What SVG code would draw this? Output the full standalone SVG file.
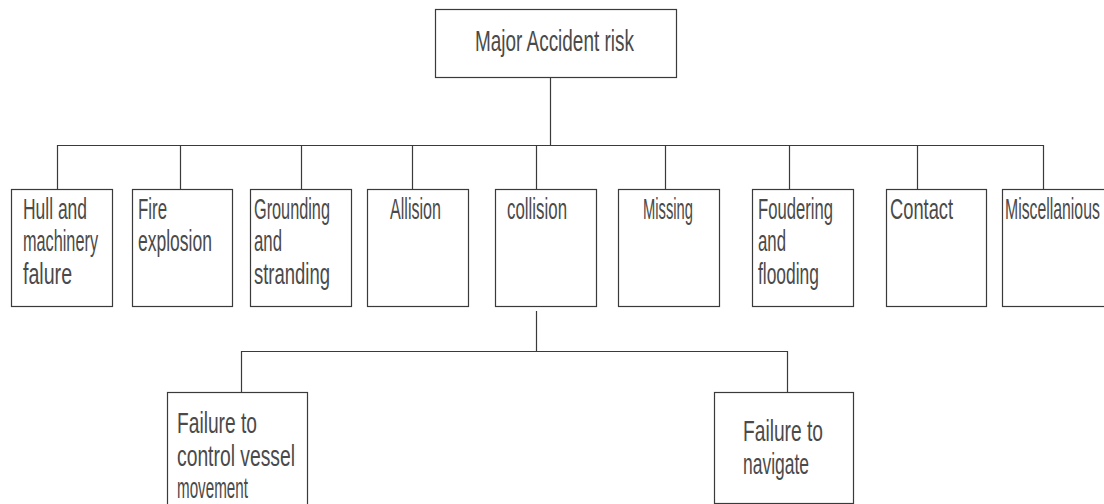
<svg xmlns="http://www.w3.org/2000/svg" width="1104" height="504" viewBox="0 0 1104 504">
  <style>
    .box { fill: #ffffff; stroke: #3a3a3a; stroke-width: 1.2; }
    .wire { fill: none; stroke: #3a3a3a; stroke-width: 1.2; }
    text { font-family: "Liberation Sans", Arial, sans-serif; font-size: 29px; fill: #4a4a4a; }
  </style>
  <rect width="1104" height="504" fill="#ffffff"/>

  <!-- tree wiring -->
  <g id="connectors">
    <path class="wire" d="M550.5 77 V145.5"/>
    <path class="wire" d="M57.5 189 V145.5 H1043.5 V189"/>
    <path class="wire" d="M180.5 145.5 V189"/>
    <path class="wire" d="M301.5 145.5 V189"/>
    <path class="wire" d="M412.5 145.5 V189"/>
    <path class="wire" d="M536.5 145.5 V189"/>
    <path class="wire" d="M665.5 145.5 V189"/>
    <path class="wire" d="M789.5 145.5 V189"/>
    <path class="wire" d="M917.5 145.5 V189"/>
    <path class="wire" d="M536.5 311 V351.5"/>
    <path class="wire" d="M241.5 392 V351.5 H787.5 V392"/>
  </g>

  <!-- labels use a horizontally condensed sans to get the narrow drafting look -->
  <g id="root">
    <rect class="box" x="435.5" y="9.5" width="241" height="68"/>
    <text transform="translate(475 51) scale(0.653 1)">Major Accident risk</text>
  </g>

  <g id="hull">
    <rect class="box" x="11.5" y="189.5" width="101" height="117"/>
    <text transform="translate(23 219) scale(0.602 1)">Hull and</text>
    <text transform="translate(23 251) scale(0.561 1)">machinery</text>
    <text transform="translate(23 284) scale(0.676 1)">falure</text>
  </g>

  <g id="fire">
    <rect class="box" x="132.5" y="189.5" width="100" height="117"/>
    <text transform="translate(138 219) scale(0.581 1)">Fire</text>
    <text transform="translate(138 251) scale(0.604 1)">explosion</text>
  </g>

  <g id="grounding">
    <rect class="box" x="250.5" y="189.5" width="101" height="117"/>
    <text transform="translate(254 219) scale(0.561 1)">Grounding</text>
    <text transform="translate(254 251) scale(0.579 1)">and</text>
    <text transform="translate(254 284) scale(0.637 1)">stranding</text>
  </g>

  <g id="allision">
    <rect class="box" x="367.5" y="189.5" width="101" height="117"/>
    <text transform="translate(390 219) scale(0.555 1)">Allision</text>
  </g>

  <g id="collision">
    <rect class="box" x="495.5" y="189.5" width="101" height="117"/>
    <text transform="translate(507 219) scale(0.582 1)">collision</text>
  </g>

  <g id="missing">
    <rect class="box" x="618.5" y="189.5" width="101" height="117"/>
    <text transform="translate(643 219) scale(0.509 1)">Missing</text>
  </g>

  <g id="foundering">
    <rect class="box" x="752.5" y="189.5" width="101" height="117"/>
    <text transform="translate(758 219) scale(0.574 1)">Foudering</text>
    <text transform="translate(758 251) scale(0.579 1)">and</text>
    <text transform="translate(758 284) scale(0.600 1)">flooding</text>
  </g>

  <g id="contact">
    <rect class="box" x="886.5" y="189.5" width="100" height="117"/>
    <text transform="translate(890 219) scale(0.631 1)">Contact</text>
  </g>

  <g id="misc">
    <rect class="box" x="1002.5" y="189.5" width="110" height="117"/>
    <text transform="translate(1005 219) scale(0.545 1)">Miscellanious</text>
  </g>

  <g id="control">
    <rect class="box" x="167.5" y="392.5" width="140" height="120"/>
    <text transform="translate(177 433) scale(0.662 1)">Failure to</text>
    <text transform="translate(177 466) scale(0.666 1)">control vessel</text>
    <text transform="translate(177 498) scale(0.524 1)">movement</text>
  </g>

  <g id="navigate">
    <rect class="box" x="714.5" y="392.5" width="139" height="111"/>
    <text transform="translate(743 441) scale(0.662 1)">Failure to</text>
    <text transform="translate(743 474) scale(0.602 1)">navigate</text>
  </g>
</svg>
